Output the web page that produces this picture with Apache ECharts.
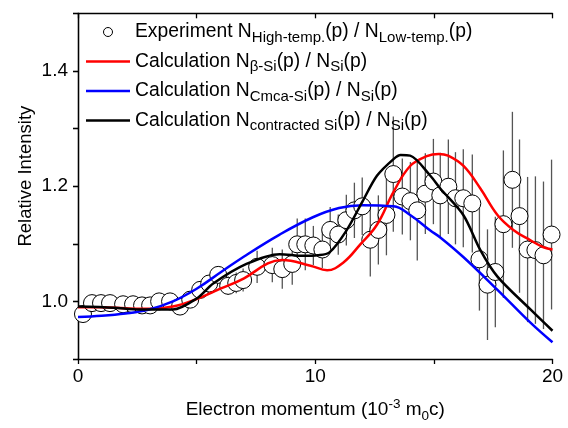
<!DOCTYPE html>
<html>
<head>
<meta charset="utf-8">
<script src="https://cdn.jsdelivr.net/npm/echarts@6/dist/echarts.min.js"></script>
<style>html,body{margin:0;padding:0;background:#fff}#c{width:568px;height:428px}</style>
</head>
<body>
<div id="c"></div>
<script>
// Experiment points
const expX = [0.21,0.59,0.97,1.35,1.90,2.32,2.70,3.04,3.42,3.88,4.30,4.73,5.15,5.53,5.91,6.33,6.67,6.96,7.55,8.19,8.61,9.03,9.24,9.58,9.92,10.30,10.63,10.97,11.31,11.65,11.98,12.32,12.66,13.00,13.29,13.67,14.01,14.30,14.64,14.98,15.27,15.61,15.91,16.24,16.62,16.92,17.26,17.59,17.93,18.31,18.61,18.95,19.28,19.62,19.96];
const expY = [0.978,0.997,0.997,0.997,0.995,0.995,0.993,0.993,1.000,1.000,0.991,1.003,1.020,1.031,1.046,1.027,1.032,1.037,1.060,1.063,1.056,1.065,1.099,1.099,1.097,1.090,1.124,1.116,1.141,1.158,1.165,1.107,1.124,1.150,1.221,1.182,1.174,1.158,1.187,1.208,1.184,1.199,1.179,1.179,1.170,1.073,1.029,1.051,1.134,1.211,1.148,1.090,1.089,1.080,1.116];
const expErr = [0.004,0.004,0.004,0.004,0.004,0.004,0.004,0.004,0.004,0.004,0.006,0.008,0.010,0.012,0.014,0.016,0.018,0.020,0.028,0.030,0.034,0.036,0.045,0.045,0.034,0.032,0.040,0.035,0.044,0.048,0.050,0.064,0.060,0.070,0.100,0.066,0.068,0.087,0.070,0.074,0.074,0.082,0.080,0.085,0.085,0.089,0.096,0.096,0.128,0.118,0.133,0.126,0.128,0.128,0.130];

// Calculated curves
const betaX = [0,1,2,3,4,5,6,7,8,8.6,9.8,10.5,11.2,11.9,12.6,13.3,14.0,14.7,15.2,15.6,16.25,16.96,17.68,18.35,19.07,19.62,20];
const betaY = [0.990,0.990,0.988,0.987,0.991,1.004,1.022,1.040,1.066,1.072,1.062,1.054,1.068,1.099,1.133,1.190,1.235,1.252,1.256,1.253,1.235,1.196,1.150,1.124,1.106,1.094,1.090];

const cmcaX = [0,1,2,3,4,5,6,7,8.5,9.9,11.0,12.0,13.3,14.0,14.85,15.27,16.24,17.68,19.07,20];
const cmcaY = [0.973,0.975,0.979,0.986,1.000,1.022,1.050,1.078,1.116,1.146,1.162,1.167,1.165,1.150,1.123,1.111,1.077,1.020,0.963,0.929];

const contrX = [0,1.5,2.6,4,5.0,5.7,7.1,8.5,9.5,10.1,10.6,11.3,12.0,12.6,13.3,13.6,14.0,14.85,15.27,16.24,16.96,17.68,19.07,20];
const contrY = [0.991,0.989,0.986,0.986,1.005,1.031,1.065,1.082,1.079,1.080,1.085,1.122,1.174,1.218,1.247,1.254,1.253,1.218,1.196,1.150,1.089,1.043,0.986,0.949];

// Ticks / labels
const xTicks = [0,10,20];
const yTicks = ['1.0','1.2','1.4'];

const zip = (xs, ys) => xs.map((x, i) => [x, ys[i]]);
const FONT = 'Liberation Sans, Arial, Helvetica, sans-serif';
const LINE_ICON = 'path://M0,0L44,0L44,2.5L0,2.5Z';

const legendText = {
  exp: 'Experiment N{s|High-temp.}(p) / N{s|Low-temp.}(p)',
  beta: 'Calculation N{s|β-Si}(p) / N{s|Si}(p)',
  cmca: 'Calculation N{s|Cmca-Si}(p) / N{s|Si}(p)',
  contr: 'Calculation N{s|contracted Si}(p) / N{s|Si}(p)'
};

const chart = echarts.init(document.getElementById('c'), null, {renderer: 'canvas'});
const axisLine = {show: true, lineStyle: {color: '#000', width: 1.3}};
const option = {
  animation: false,
  backgroundColor: '#fff',
  textStyle: {fontFamily: FONT},
  grid: {left: 78, right: 15.5, top: 13.3, bottom: 64.7},
  legend: {
    data: [
      {name: 'exp', icon: 'circle', itemStyle: {color: '#fff', borderColor: '#000', borderWidth: 1}},
      {name: 'beta', icon: LINE_ICON},
      {name: 'cmca', icon: LINE_ICON},
      {name: 'contr', icon: LINE_ICON}
    ],
    orient: 'vertical',
    left: 86, top: 19, padding: 0,
    itemWidth: 44, itemHeight: 9, itemGap: 3.5,
    formatter: n => legendText[n],
    textStyle: {
      fontFamily: FONT, fontSize: 19.3, color: '#000', lineHeight: 26,
      rich: {s: {fontFamily: FONT, fontSize: 15, lineHeight: 15, verticalAlign: 'bottom', color: '#000'}}
    }
  },
  xAxis: [{
    type: 'value', min: 0, max: 20, interval: 5,
    axisLine: axisLine,
    axisTick: {show: true, inside: false, length: 5, lineStyle: {color: '#000', width: 1.3}},
    splitLine: {show: false},
    axisLabel: {
      fontFamily: FONT, fontSize: 19, color: '#000', margin: 8,
      formatter: v => xTicks.indexOf(v) >= 0 ? String(v) : ''
    },
    name: 'Electron momentum (10{sup|-3} m{sub|0}c)',
    nameLocation: 'middle', nameGap: 38, nameMoveOverlap: false,
    nameTextStyle: {
      fontFamily: FONT, fontSize: 19, color: '#000', lineHeight: 26,
      rich: {
        sup: {fontFamily: FONT, fontSize: 13.5, lineHeight: 13.5, verticalAlign: 'top', color: '#000'},
        sub: {fontFamily: FONT, fontSize: 13.5, lineHeight: 13.5, verticalAlign: 'bottom', color: '#000'}
      }
    }
  }, {
    type: 'value', min: 0, max: 20, interval: 5, position: 'top',
    axisLine: axisLine,
    axisTick: {show: true, inside: true, length: 5, lineStyle: {color: '#000', width: 1.3}},
    axisLabel: {show: false}, splitLine: {show: false}
  }],
  yAxis: [{
    type: 'value', min: 0.9, max: 1.5, interval: 0.1,
    axisLine: axisLine,
    axisTick: {show: true, inside: false, length: 5, lineStyle: {color: '#000', width: 1.3}},
    splitLine: {show: false},
    axisLabel: {
      fontFamily: FONT, fontSize: 19, color: '#000', margin: 10,
      formatter: v => { const s = v.toFixed(1); return yTicks.indexOf(s) >= 0 ? s : ''; }
    },
    name: 'Relative Intensity',
    nameLocation: 'middle', nameGap: 42.5, nameMoveOverlap: false,
    nameTextStyle: {fontFamily: FONT, fontSize: 18.5, lineHeight: 18.5, color: '#000', padding: [0, 0, 0, 20]}
  }, {
    type: 'value', min: 0.9, max: 1.5, interval: 0.1, position: 'right',
    axisLine: axisLine,
    axisTick: {show: true, inside: true, length: 5, lineStyle: {color: '#000', width: 1.3}},
    axisLabel: {show: false}, splitLine: {show: false}
  }],
  series: [
    {
      name: 'errbars', type: 'custom', z: 1, silent: true,
      data: expX.map((x, i) => [x, expY[i] - expErr[i], expY[i] + expErr[i]]),
      renderItem: (params, api) => {
        const p1 = api.coord([api.value(0), api.value(1)]);
        const p2 = api.coord([api.value(0), api.value(2)]);
        return {type: 'line', shape: {x1: p1[0], y1: p1[1], x2: p2[0], y2: p2[1]},
                style: {stroke: '#555', lineWidth: 1.3}};
      }
    },
    {
      name: 'exp', type: 'scatter', z: 2, symbol: 'circle', symbolSize: 17,
      itemStyle: {color: '#fff', borderColor: '#000', borderWidth: 1, opacity: 1},
      data: zip(expX, expY)
    },
    {
      name: 'beta', type: 'line', z: 3, symbol: 'none', smooth: 0.4,
      lineStyle: {color: '#ff0000', width: 2.5}, itemStyle: {color: '#ff0000'},
      data: zip(betaX, betaY)
    },
    {
      name: 'cmca', type: 'line', z: 3, symbol: 'none', smooth: 0.4,
      lineStyle: {color: '#0000ff', width: 2.5}, itemStyle: {color: '#0000ff'},
      data: zip(cmcaX, cmcaY)
    },
    {
      name: 'contr', type: 'line', z: 4, symbol: 'none', smooth: 0.3,
      lineStyle: {color: '#000', width: 2.5}, itemStyle: {color: '#000'},
      data: zip(contrX, contrY)
    }
  ]
};
chart.setOption(option);
</script>
</body>
</html>
